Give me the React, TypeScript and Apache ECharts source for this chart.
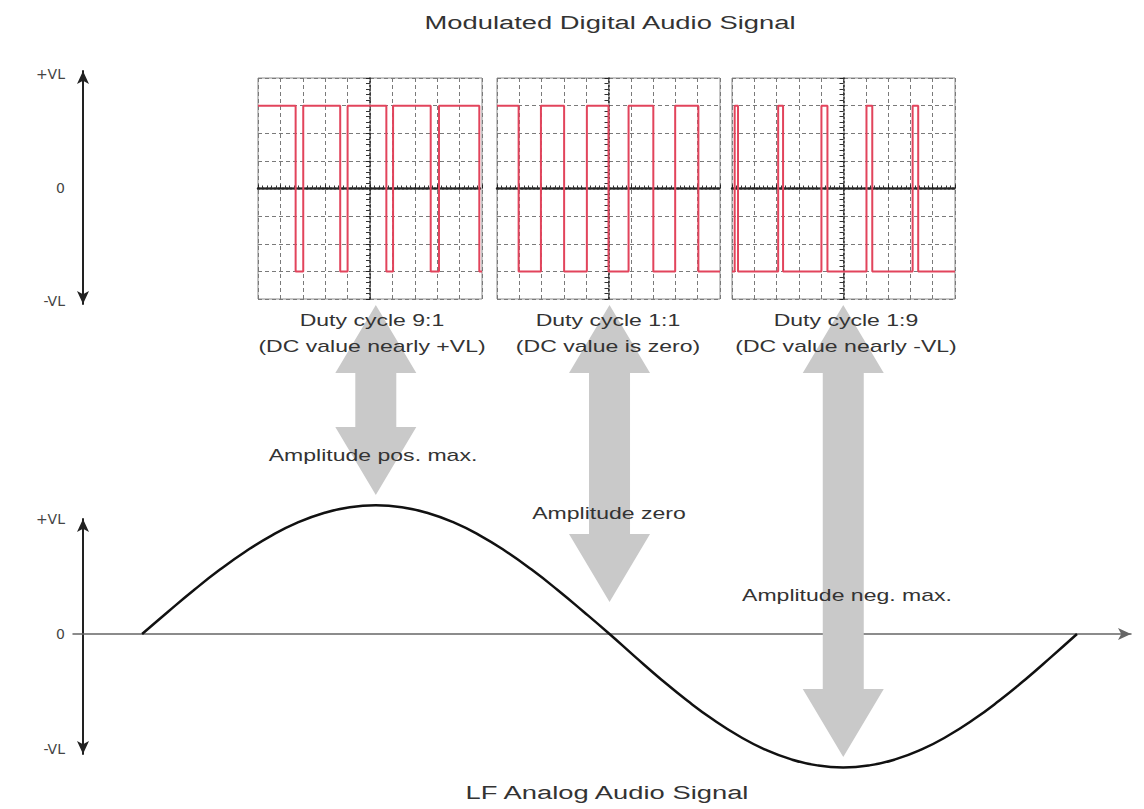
import React, { useEffect, useRef } from "react";
import * as echarts from "echarts";

// ---------- data ----------
const mainTitle = "Modulated Digital Audio Signal";
const bottomTitle = "LF Analog Audio Signal";
const dutyTitles = ["Duty cycle 9:1", "Duty cycle 1:1", "Duty cycle 1:9"];
const dutyNotes = ["(DC value nearly +VL)", "(DC value is zero)", "(DC value nearly -VL)"];
const amplitudeLabels = ["Amplitude pos. max.", "Amplitude zero", "Amplitude neg. max."];

const vlTickValues = [-1, 0, 1];
const vlTickLabels = ["-VL", "0", "+VL"];

// oscilloscope levels (divisions)
const HIGH = 3;
const LOW = -3;
// transition times in divisions from screen centre (-5 .. 5)
const duty91Start = HIGH;
const duty91Edges = [-3.32, -2.98, -1.33, -1.0, 0.73, 1.03, 2.71, 3.08, 4.88];
const duty11Start = HIGH;
const duty11Edges = [-4.03, -3.03, -1.99, -0.97, 0.0, 0.9, 2.01, 2.99, 4.03];
const duty19Start = LOW;
const duty19Edges = [-4.88, -4.73, -2.93, -2.71, -0.99, -0.72, 1.03, 1.29, 3.1, 3.35];

// analog signal: phase (deg) and level (in VL)
const sinePhase = [
  0, 10, 20, 30, 40, 50, 60, 70, 80, 90, 100, 110, 120, 130, 140, 150, 160, 170, 180,
  190, 200, 210, 220, 230, 240, 250, 260, 270, 280, 290, 300, 310, 320, 330, 340, 350, 360,
];
const sineLevel = [
  0, 0.194, 0.383, 0.56, 0.72, 0.858, 0.97, 1.052, 1.103, 1.12, 1.103, 1.052, 0.97, 0.858, 0.72, 0.56, 0.383, 0.194, 0,
  -0.201, -0.397, -0.58, -0.746, -0.889, -1.005, -1.09, -1.142, -1.16, -1.142, -1.09, -1.005, -0.889, -0.746, -0.58, -0.397, -0.201, 0,
];
const arrowPhase = [90, 180, 270];

// ---------- helpers ----------
function stepData(start: number, edges: number[]) {
  const out: number[][] = [[-5, start]];
  let lvl = start;
  edges.forEach((e) => {
    lvl = lvl === HIGH ? LOW : HIGH;
    out.push([e, lvl]);
  });
  out.push([5, lvl]);
  return out;
}

const FONT = "'Liberation Sans', Arial, Helvetica, sans-serif";
const STRETCH = 1.44;

function label(text: string, x: number, y: number, size: number) {
  return {
    type: "text",
    x,
    y,
    scaleX: STRETCH,
    z: 10,
    style: {
      text,
      fill: "#333",
      fontSize: size,
      fontFamily: FONT,
      align: "center",
      verticalAlign: "middle",
      textAlign: "center",
      textVerticalAlign: "middle",
    },
  };
}

function doubleArrow(cx: number, yT: number, yB: number) {
  const hl = 68;
  const hw = 40.5;
  const sw = 20.5;
  return {
    type: "polygon",
    z: 1,
    shape: {
      points: [
        [cx, yT],
        [cx + hw, yT + hl],
        [cx + sw, yT + hl],
        [cx + sw, yB - hl],
        [cx + hw, yB - hl],
        [cx, yB],
        [cx - hw, yB - hl],
        [cx - sw, yB - hl],
        [cx - sw, yT + hl],
        [cx - hw, yT + hl],
      ],
    },
    style: { fill: "#c9c9c9" },
  };
}

const panelRects = [
  { left: 258, top: 78, width: 224, height: 221 },
  { left: 497, top: 78, width: 223, height: 221 },
  { left: 732, top: 78, width: 223, height: 221 },
];
const panelData = [
  stepData(duty91Start, duty91Edges),
  stepData(duty11Start, duty11Edges),
  stepData(duty19Start, duty19Edges),
];

export default function App() {
  const ref = useRef<HTMLDivElement>(null);

  useEffect(() => {
    if (!ref.current) return;
    const chart = echarts.init(ref.current, undefined, { renderer: "svg" });

    const grids: any[] = panelRects.map((r) => ({
      ...r,
      show: true,
      borderColor: "#8c8c8c",
      borderWidth: 1,
    }));
    grids.push({ left: 73, top: 519, right: 13, height: 235 }); // lower analog chart
    grids.push({ left: 83, top: 71, width: 1, height: 233 }); // upper level axis

    const xAxes: any[] = panelRects.map((_, i) => ({
      gridIndex: i,
      type: "value",
      min: -5,
      max: 5,
      interval: 1,
      axisLine: { show: true, onZero: true, lineStyle: { color: "#222", width: 2.5, type: [2, 2] } },
      axisTick: { show: true, inside: true, length: 4, lineStyle: { color: "#222" } },
      minorTick: { show: true, splitNumber: 5, length: 3, lineStyle: { color: "#333" } },
      axisLabel: { show: false },
      splitLine: { show: true, lineStyle: { color: "#7a7a7a", type: [4, 3], width: 1 } },
    }));
    const yAxes: any[] = panelRects.map((_, i) => ({
      gridIndex: i,
      type: "value",
      min: -4,
      max: 4,
      interval: 1,
      axisLine: { show: true, onZero: true, lineStyle: { color: "#222", width: 1.5, type: [2, 2] } },
      axisTick: { show: true, length: 4, lineStyle: { color: "#222" } },
      minorTick: { show: true, splitNumber: 5, length: 4, lineStyle: { color: "#333" } },
      axisLabel: { show: false },
      splitLine: { show: true, lineStyle: { color: "#7a7a7a", type: [4, 3], width: 1 } },
    }));

    const vlLabel = {
      customValues: vlTickValues,
      formatter: (v: number) => vlTickLabels[vlTickValues.indexOf(Math.round(v))] ?? "",
      margin: 18,
      fontSize: 14,
      color: "#444",
      fontFamily: "'DejaVu Sans', sans-serif",
    };

    xAxes.push({
      gridIndex: 3,
      type: "value",
      min: -26.6,
      max: 380.8,
      axisLine: {
        show: true,
        onZero: true,
        symbol: ["none", "arrow"],
        symbolSize: [9, 13],
        lineStyle: { color: "#666", width: 1.5 },
      },
      axisTick: { show: false },
      axisLabel: { show: false },
      splitLine: { show: false },
    });
    yAxes.push({
      gridIndex: 3,
      type: "value",
      min: -1.043,
      max: 1.0,
      offset: -10,
      axisLine: {
        show: true,
        onZero: false,
        symbol: ["arrow", "arrow"],
        symbolSize: [9, 13],
        lineStyle: { color: "#222", width: 2 },
      },
      axisTick: { show: false },
      axisLabel: vlLabel,
      splitLine: { show: false },
    });

    xAxes.push({ gridIndex: 4, type: "value", min: 0, max: 1, show: false });
    yAxes.push({
      gridIndex: 4,
      type: "value",
      min: -1.03,
      max: 1.03,
      axisLine: {
        show: true,
        onZero: false,
        symbol: ["arrow", "arrow"],
        symbolSize: [9, 13],
        lineStyle: { color: "#222", width: 2 },
      },
      axisTick: { show: false },
      axisLabel: vlLabel,
      splitLine: { show: false },
    });

    const series: any[] = panelData.map((d, i) => ({
      type: "line",
      xAxisIndex: i,
      yAxisIndex: i,
      data: d,
      step: "end",
      symbol: "none",
      z: 5,
      lineStyle: { color: "#e2445c", width: 2 },
    }));
    series.push({
      type: "line",
      xAxisIndex: 3,
      yAxisIndex: 3,
      data: sinePhase.map((p, i) => [p, sineLevel[i]]),
      smooth: true,
      symbol: "none",
      clip: false,
      z: 3,
      lineStyle: { color: "#111", width: 2.5 },
    });

    chart.setOption({
      animation: false,
      backgroundColor: "#fff",
      grid: grids,
      xAxis: xAxes,
      yAxis: yAxes,
      series,
    });

    const arrowTipTop = 305;
    const arrowTipBottom = [495, 602, 757];
    const arrowX = arrowPhase.map((p) => (chart.convertToPixel({ gridIndex: 3 }, [p, 0]) as number[])[0]);

    const graphics: any[] = [];
    arrowX.forEach((x, i) => graphics.push(doubleArrow(x, arrowTipTop, arrowTipBottom[i])));
    graphics.push(label(mainTitle, 610, 23, 19));
    graphics.push(label(bottomTitle, 607, 793, 19));
    const labelX = [372, 608, 846];
    dutyTitles.forEach((t, i) => graphics.push(label(t, labelX[i], 320, 16)));
    dutyNotes.forEach((t, i) => graphics.push(label(t, labelX[i], 346, 16)));
    const ampY = [455, 513, 595];
    amplitudeLabels.forEach((t, i) => graphics.push(label(t, labelX[i] + 1, ampY[i], 16)));

    chart.setOption({ graphic: graphics });

    return () => chart.dispose();
  }, []);

  return (
    <div
      ref={ref}
      style={{ position: "fixed", left: 0, top: 0, width: 1144, height: 809 }}
    />
  );
}
